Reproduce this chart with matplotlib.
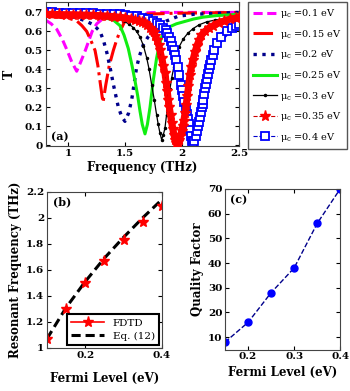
import matplotlib
matplotlib.use('Agg')
import matplotlib.pyplot as plt
from matplotlib.lines import Line2D

# ---- panel (a): transmission spectra ----
f_01 = [0.80, 0.85, 0.90, 0.95, 0.99, 1.03, 1.074, 1.11, 1.15, 1.18, 1.21, 1.25, 1.30, 1.40, 1.55, 1.80, 2.50]
t_01 = [0.66, 0.64, 0.61, 0.555, 0.50, 0.44, 0.39, 0.44, 0.50, 0.55, 0.60, 0.64, 0.665, 0.685, 0.695, 0.70, 0.70]

f_015 = [0.80, 1.00, 1.075, 1.12, 1.162, 1.20, 1.235, 1.26, 1.285, 1.305, 1.33, 1.36, 1.396, 1.425, 1.454, 1.49, 1.53, 1.65, 1.90, 2.50]
t_015 = [0.68, 0.67, 0.655, 0.63, 0.60, 0.55, 0.50, 0.42, 0.31, 0.225, 0.32, 0.42, 0.50, 0.555, 0.60, 0.645, 0.675, 0.69, 0.695, 0.70]

f_02 = [0.80, 0.95, 1.05, 1.147, 1.22, 1.279, 1.31, 1.338, 1.367, 1.40, 1.44, 1.47, 1.498, 1.53, 1.557, 1.58, 1.60,
        1.625, 1.659, 1.70, 1.746, 1.80, 1.864, 1.966, 2.10, 2.30, 2.50]
t_02 = [0.69, 0.685, 0.675, 0.657, 0.635, 0.60, 0.55, 0.49, 0.41, 0.31, 0.20, 0.15, 0.126, 0.17, 0.24, 0.33, 0.41,
        0.47, 0.53, 0.57, 0.60, 0.63, 0.655, 0.68, 0.69, 0.695, 0.70]

f_025 = [0.80, 1.10, 1.25, 1.33, 1.396, 1.454, 1.49, 1.527, 1.56, 1.586, 1.61, 1.63, 1.65, 1.674, 1.695, 1.718, 1.746,
         1.776, 1.80, 1.82, 1.85, 1.893, 1.95, 2.01, 2.10, 2.185, 2.30, 2.50]
t_025 = [0.69, 0.685, 0.678, 0.67, 0.66, 0.63, 0.58, 0.51, 0.42, 0.34, 0.26, 0.18, 0.11, 0.06, 0.11, 0.20, 0.34,
         0.46, 0.53, 0.57, 0.60, 0.625, 0.64, 0.65, 0.665, 0.675, 0.683, 0.69]

f_03 = [0.80, 0.90, 1.00, 1.10, 1.20, 1.30, 1.35, 1.43, 1.483, 1.53, 1.571, 1.60, 1.63, 1.66, 1.689, 1.71, 1.732, 1.755,
        1.776, 1.79, 1.805, 1.82, 1.835, 1.849, 1.863, 1.878, 1.893, 1.908, 1.927, 1.948, 1.975, 2.01, 2.05, 2.097,
        2.15, 2.215, 2.29, 2.36, 2.43, 2.50]
t_03 = [0.695, 0.694, 0.692, 0.69, 0.688, 0.684, 0.68, 0.67, 0.655, 0.64, 0.62, 0.60, 0.57, 0.525, 0.46, 0.40, 0.32, 0.24,
        0.16, 0.11, 0.065, 0.03, 0.055, 0.09, 0.16, 0.23, 0.295, 0.355, 0.41, 0.47, 0.52, 0.56, 0.59, 0.615,
        0.635, 0.65, 0.66, 0.665, 0.67, 0.675]

f_035 = [0.80, 0.86, 0.92, 0.98, 1.04, 1.10, 1.16, 1.22, 1.28, 1.34, 1.40, 1.45, 1.50, 1.55, 1.59, 1.62, 1.65, 1.67, 1.695,
         1.718, 1.735, 1.75, 1.765, 1.78, 1.793, 1.805, 1.82, 1.835, 1.849, 1.86, 1.87, 1.878, 1.888, 1.898, 1.908, 1.918,
         1.928, 1.938, 1.947, 1.957, 1.966, 1.976, 1.985, 1.995, 2.005, 2.015, 2.025, 2.035, 2.045, 2.056, 2.068, 2.08,
         2.095, 2.112, 2.13, 2.15, 2.17, 2.20, 2.24, 2.273, 2.32, 2.37, 2.42, 2.47, 2.50]
t_035 = [0.69, 0.69, 0.689, 0.688, 0.688, 0.687, 0.686, 0.685, 0.683, 0.681, 0.678, 0.675, 0.671, 0.665, 0.66, 0.655, 0.648, 0.642, 0.632,
         0.62, 0.607, 0.595, 0.578, 0.555, 0.53, 0.50, 0.46, 0.42, 0.38, 0.33, 0.285, 0.24, 0.20, 0.16, 0.12, 0.085,
         0.055, 0.03, 0.012, 0.008, 0.015, 0.03, 0.05, 0.075, 0.10, 0.13, 0.17, 0.21, 0.26, 0.31, 0.37, 0.41,
         0.45, 0.49, 0.525, 0.555, 0.58, 0.60, 0.62, 0.63, 0.645, 0.655, 0.665, 0.67, 0.675]

f_04 = [0.80, 0.86, 0.92, 0.98, 1.04, 1.10, 1.16, 1.22, 1.28, 1.34, 1.40, 1.45, 1.50, 1.55, 1.60, 1.65, 1.70, 1.74, 1.78,
        1.81, 1.835, 1.855, 1.87, 1.885, 1.90, 1.913, 1.925, 1.936, 1.947, 1.96, 1.975, 1.99, 2.00, 2.01, 2.02, 2.033,
        2.042, 2.05, 2.057, 2.066, 2.075, 2.086, 2.097, 2.108, 2.12, 2.13, 2.14, 2.149, 2.157, 2.165, 2.172, 2.18, 2.187,
        2.196, 2.205, 2.213, 2.22, 2.23, 2.237, 2.247, 2.257, 2.27, 2.283, 2.31, 2.345, 2.395, 2.44, 2.47, 2.50]
t_04 = [0.70, 0.70, 0.699, 0.698, 0.698, 0.697, 0.696, 0.695, 0.694, 0.692, 0.69, 0.689, 0.686, 0.683, 0.68, 0.673, 0.665, 0.655, 0.643,
        0.632, 0.62, 0.605, 0.59, 0.572, 0.55, 0.525, 0.50, 0.475, 0.45, 0.415, 0.37, 0.32, 0.29, 0.26, 0.23, 0.19,
        0.163, 0.14, 0.11, 0.08, 0.05, 0.025, 0.012, 0.025, 0.05, 0.075, 0.10, 0.125, 0.15, 0.175, 0.20, 0.22, 0.24,
        0.27, 0.30, 0.325, 0.35, 0.375, 0.40, 0.425, 0.45, 0.475, 0.50, 0.54, 0.57, 0.60, 0.62, 0.63, 0.64]

legend_a = [r'μ$_\mathregular{c}$ =0.1 eV', r'μ$_\mathregular{c}$ =0.15 eV', r'μ$_\mathregular{c}$ =0.2 eV',
            r'μ$_\mathregular{c}$ =0.25 eV', r'μ$_\mathregular{c}$ =0.3 eV', r'μ$_\mathregular{c}$ =0.35 eV',
            r'μ$_\mathregular{c}$ =0.4 eV']

# ---- panel (b): resonant frequency vs Fermi level ----
fermi_b = [0.10, 0.15, 0.20, 0.25, 0.30, 0.35, 0.40]
fdtd_b = [1.07, 1.30, 1.50, 1.67, 1.83, 1.97, 2.09]
eq12_b = [1.07, 1.31, 1.51, 1.69, 1.85, 2.00, 2.14]

# ---- panel (c): quality factor vs Fermi level ----
fermi_c = [0.15, 0.20, 0.25, 0.30, 0.35, 0.40]
q_c = [8, 16, 28, 38, 56, 70]

plt.rcParams['font.family'] = 'DejaVu Serif'
plt.rcParams['font.weight'] = 'bold'
plt.rcParams['axes.labelweight'] = 'bold'
plt.rcParams['mathtext.fontset'] = 'dejavuserif'
plt.rcParams['xtick.direction'] = 'in'
plt.rcParams['ytick.direction'] = 'in'
plt.rcParams['xtick.top'] = True
plt.rcParams['ytick.right'] = True
plt.rcParams['xtick.major.size'] = 3
plt.rcParams['ytick.major.size'] = 3
plt.rcParams['axes.linewidth'] = 0.8
plt.rcParams['axes.edgecolor'] = '#444444'

fig = plt.figure(figsize=(3.5, 3.91), dpi=100)

# (a)
ax = fig.add_axes([0.130, 0.626, 0.553, 0.369])
l1, = ax.plot(f_01, t_01, '--', color='#ff00ff', lw=2.2, dashes=(3, 1.5))
l2, = ax.plot(f_015, t_015, '-.', color='#ff0000', lw=2.2)
l3, = ax.plot(f_02, t_02, ':', color='#00008b', lw=2.4)
l4, = ax.plot(f_025, t_025, '-', color='#11ee11', lw=2.2)
l5, = ax.plot(f_03, t_03, '-', color='black', lw=0.9, marker='.', ms=3)
ax.plot(f_035, t_035, '-', color='red', lw=5.0, zorder=3)
l6, = ax.plot(f_035, t_035, '--', color='#cc0000', lw=0.8, marker='*', ms=8,
              mfc='red', mec='red', zorder=4)
ax.plot(f_04, t_04, '-', color='blue', lw=5.0, zorder=2)
l7, = ax.plot(f_04, t_04, '--', color='#0000cc', lw=0.8, marker='s', ms=5.5,
              mfc='white', mec='blue', mew=1.3, zorder=2.5)
ax.set_xlim(0.8, 2.5)
ax.set_ylim(-0.005, 0.755)
ax.set_xticks([1, 1.5, 2, 2.5])
ax.set_xticklabels(['1', '1.5', '2', '2.5'])
ax.set_yticks([0, 0.1, 0.2, 0.3, 0.4, 0.5, 0.6, 0.7])
ax.set_yticklabels(['0', '0.1', '0.2', '0.3', '0.4', '0.5', '0.6', '0.7'])
ax.tick_params(labelsize=7.5, pad=2)
ax.set_xlabel('Frequency (THz)', fontsize=8.5, labelpad=2)
ax.set_ylabel('T', fontsize=9, labelpad=6)
ax.text(0.03, 0.04, '(a)', transform=ax.transAxes, fontsize=8)

fig.legend([l1, l2, l3, l4, l5, l6, l7], legend_a, loc='upper left',
           bbox_to_anchor=(0.709, 0.995, 0.283, 0.0), mode='expand',
           borderaxespad=0, fancybox=False, edgecolor='#555555', framealpha=1,
           prop={'weight': 'normal', 'size': 7}, handlelength=2.4, handletextpad=0.3,
           labelspacing=0.78, borderpad=0.55, numpoints=1)

# (b)
axb = fig.add_axes([0.134, 0.110, 0.329, 0.400])
axb.plot(fermi_b, eq12_b, '--', color='black', lw=2.2, dashes=(3, 1.6))
axb.plot(fermi_b, fdtd_b, linestyle='none', marker='*', ms=8, color='red')
axb.set_xlim(0.1, 0.4)
axb.set_ylim(1, 2.2)
axb.set_xticks([0.2, 0.4])
axb.set_xticklabels(['0.2', '0.4'])
axb.set_yticks([1, 1.2, 1.4, 1.6, 1.8, 2, 2.2])
axb.set_yticklabels(['1', '1.2', '1.4', '1.6', '1.8', '2', '2.2'])
axb.tick_params(labelsize=7.5, pad=2)
axb.set_xlabel('Fermi Level (eV)', fontsize=8.5, labelpad=9)
axb.set_ylabel('Resonant Frequency (THz)', fontsize=8.5, labelpad=3)
axb.text(0.05, 0.91, '(b)', transform=axb.transAxes, fontsize=8)
h_fdtd = Line2D([], [], color='red', lw=1.2, marker='*', ms=8)
h_eq = Line2D([], [], color='black', lw=2.2, linestyle='--', dashes=(3, 1.6))
lgb = axb.legend([h_fdtd, h_eq], ['FDTD', 'Eq. (12)'], loc='lower right',
                 fancybox=False, edgecolor='black', framealpha=1,
                 prop={'weight': 'normal', 'size': 7.5}, handlelength=3.2,
                 borderaxespad=0.3, borderpad=0.4, labelspacing=0.35, numpoints=1)
lgb.get_frame().set_linewidth(1.5)

# (c)
axc = fig.add_axes([0.643, 0.106, 0.329, 0.411])
axc.plot(fermi_c, q_c, '--', color='#00008b', lw=1.0, marker='o', ms=5,
         mfc='blue', mec='blue')
axc.set_xlim(0.15, 0.4)
axc.set_ylim(5, 70)
axc.set_xticks([0.2, 0.3, 0.4])
axc.set_xticklabels(['0.2', '0.3', '0.4'])
axc.set_yticks([10, 20, 30, 40, 50, 60, 70])
axc.tick_params(labelsize=7.5, pad=2)
axc.set_xlabel('Fermi Level (eV)', fontsize=8.5, labelpad=3)
axc.set_ylabel('Quality Factor', fontsize=8.5, labelpad=3)
axc.text(0.04, 0.91, '(c)', transform=axc.transAxes, fontsize=8)

fig.savefig('out.png', dpi=100)
